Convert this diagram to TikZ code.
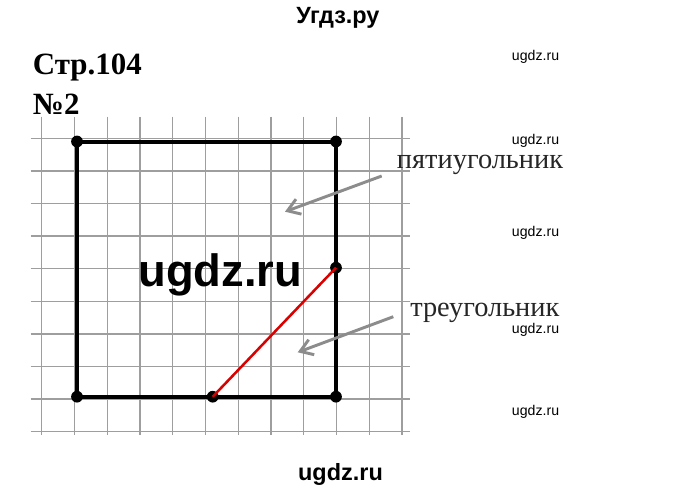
\documentclass[tikz,border=0pt]{standalone}
\usepackage{fontspec}
\setmainfont{Liberation Serif}
\newfontfamily\sansfil{Liberation Sans}
\usetikzlibrary{arrows.meta}

\tikzset{
  grille/.style={black!38,line width=1pt},
  carre/.style={black,line width=3pt,line join=miter},
  point/.style={circle,fill=black,inner sep=0pt,minimum size=8.8pt},
  fleche/.style={black!45,line width=2.2pt,-{Straight Barb[length=9pt,width=12pt]}},
  etiquette/.style={anchor=base west,inner sep=0pt,font=\fontsize{21.3}{22}\selectfont,black!85},
  filigrane/.style={anchor=base west,inner sep=0pt,font=\sansfil\fontsize{10.6}{12}\selectfont},
  marque/.style={anchor=base,inner sep=0pt,font=\sansfil\bfseries\fontsize{17.6}{20}\selectfont}
}

\begin{document}
\begin{tikzpicture}[x=0.75pt,y=-0.75pt]
\useasboundingbox (0,0) rectangle (680,493);

% la grille
\foreach \i in {0,...,11}
  \draw[grille] (41.7+32.75*\i,116.7) -- (41.7+32.75*\i,435);
\foreach \j in {0,...,9}
  \draw[grille] (30.7,138.3+32.6*\j) -- (410,138.3+32.6*\j);

% les titres
\node[marque] (haut) at (338,23.3) {Угдз.ру};
\node[anchor=base west,inner sep=0pt,font=\bfseries\fontsize{23.2}{26}\selectfont] (page) at (32.7,74.3) {Стр.104};
\node[anchor=base west,inner sep=0pt,font=\bfseries\fontsize{23.2}{26}\selectfont] (numero) at (32.7,114) {№2};

% les sommets
\node[point] (A) at (77,141.5) {};
\node[point] (B) at (336,141.5) {};
\node[point] (C) at (336,396.7) {};
\node[point] (D) at (77,396.7) {};
\node[point] (E) at (212.7,396.7) {};
\node[point] (F) at (336,267.7) {};

\draw[carre] (A.center) -- (B.center) -- (C.center) -- (D.center) -- cycle;
\draw[red!85!black,line width=1.9pt] (E.center) -- (F.center);%la coupe

% le filigrane
\node[anchor=base west,inner sep=0pt,font=\sansfil\bfseries\fontsize{34}{36}\selectfont] (gros) at (138.3,286.7) {ugdz.ru};

% les fleches
\node[etiquette] (penta) at (396.7,168.3) {пятиугольник};
\node[etiquette] (tri) at (410,316.7) {треугольник};
\coordinate (p1) at (381.7,176);
\coordinate (p2) at (285,211.7);
\coordinate (t1) at (393.3,316.7);
\coordinate (t2) at (297.7,352.3);
\draw[fleche] (p1) -- (p2);
\draw[fleche] (t1) -- (t2);

\foreach \y/\n in {60/a,144.5/b,236.7/c,333/d,415/e}
  \node[filigrane] (fil\n) at (511.7,\y) {ugdz.ru};

\node[marque] (bas) at (340.5,480) {ugdz.ru};

\end{tikzpicture}
\end{document}
